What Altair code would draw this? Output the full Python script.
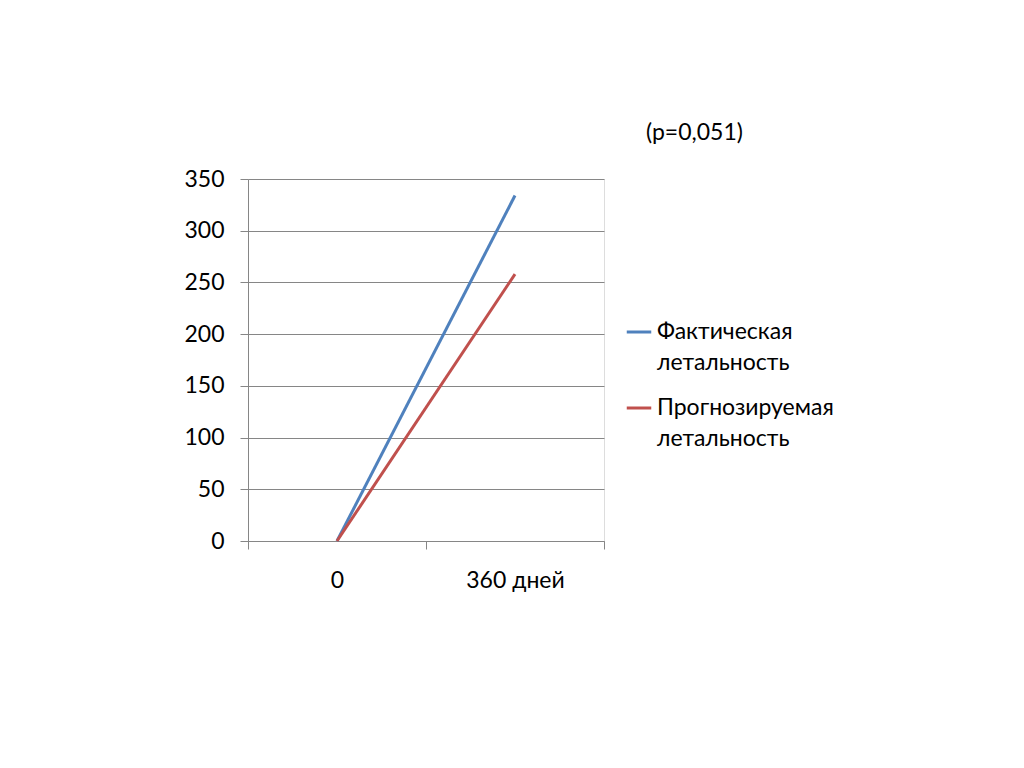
import altair as alt
import pandas as pd

categories = ["0", "360 дней"]
series_names = ["Фактическая летальность", "Прогнозируемая летальность"]
fact_values = [0, 334]
prog_values = [0, 258]
colors = ["#4F81BD", "#C0504D"]
y_ticks = [0, 50, 100, 150, 200, 250, 300, 350]

rows = []
for c, v in zip(categories, fact_values):
    rows.append({"period": c, "value": v, "series": series_names[0]})
for c, v in zip(categories, prog_values):
    rows.append({"period": c, "value": v, "series": series_names[1]})
df = pd.DataFrame(rows)

FONT = "Lato"
FS = 23
GRAY = "#868686"

chart = alt.Chart(df).mark_line(strokeWidth=3).encode(
    x=alt.X("period:N", sort=categories,
            scale=alt.Scale(type="band", paddingInner=0, paddingOuter=0),
            axis=alt.Axis(title=None, labelAngle=0, tickBand="extent", grid=False,
                          domainColor=GRAY, tickColor=GRAY, tickSize=8,
                          labelFontSize=FS, labelFont=FONT, labelColor="#000000",
                          labelPadding=20)),
    y=alt.Y("value:Q", scale=alt.Scale(domain=[0, 350], nice=False),
            axis=alt.Axis(title=None, values=y_ticks, grid=True, gridColor=GRAY,
                          domainColor=GRAY, tickColor=GRAY, tickSize=8,
                          labelFontSize=FS, labelFont=FONT, labelColor="#000000",
                          labelPadding=16)),
    color=alt.Color("series:N", sort=series_names,
                    scale=alt.Scale(domain=series_names, range=colors),
                    legend=alt.Legend(title=None, orient="none", legendX=377, legendY=139,
                                      symbolType="stroke", symbolStrokeWidth=3, symbolSize=600,
                                      labelFont=FONT, labelFontSize=FS, labelColor="#000000",
                                      labelExpr="split(datum.label, ' ')",
                                      labelBaseline="middle", labelOffset=4,
                                      rowPadding=19, labelLimit=300)),
).properties(
    width=356, height=362,
    title=alt.TitleParams(text="(p=0,051)", anchor="start", dx=462, offset=23,
                          font=FONT, fontSize=FS, fontWeight="normal", color="#000000"),
    autosize=alt.AutoSizeParams(type="none"),
    padding={"left": 240, "top": 171, "right": 400, "bottom": 200},
).configure_view(stroke=None).configure(
    background="white",
    style={"guide-label": {"lineHeight": 31}},
)

chart.save("out.html", embed_options={"renderer": "svg", "actions": False})
